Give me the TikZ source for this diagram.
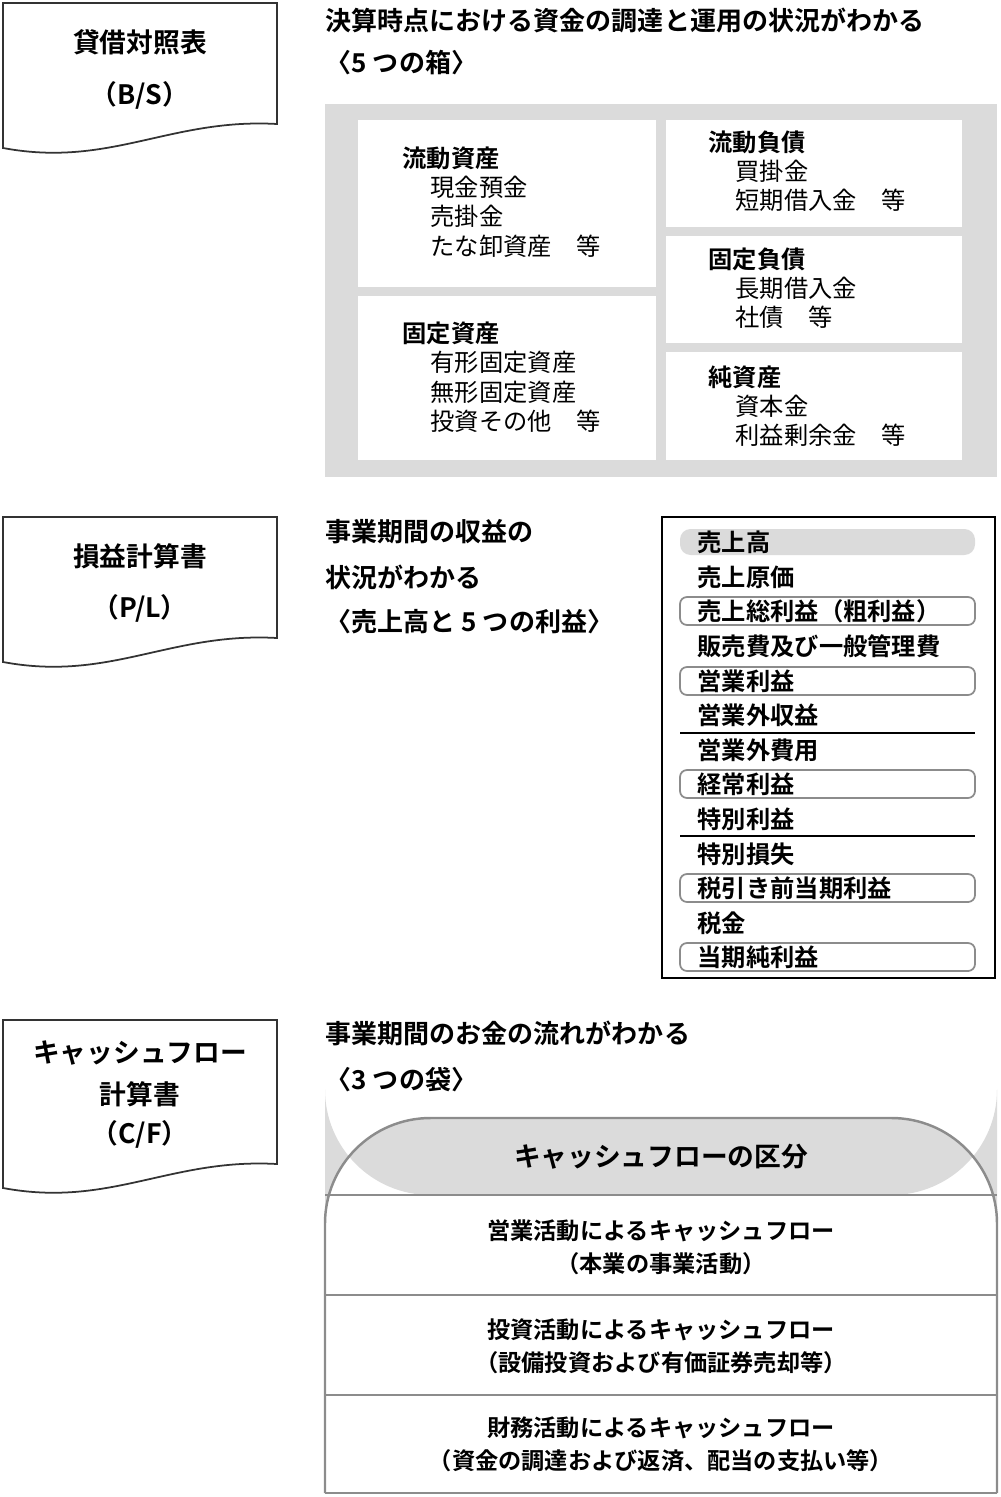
\documentclass[tikz,border=0pt]{standalone}
\usepackage{fontspec}
\setmainfont{Noto Sans CJK JP}[BoldFont={* Bold}]
\usetikzlibrary{positioning}
\definecolor{boxgray}{gray}{0.86}
\definecolor{linegray}{gray}{0.55}
\tikzset{
  doc/.style={draw=black!80, line width=0.5pt},
  head/.style={anchor=west, inner sep=0pt, font=\fontsize{7.4}{9}\selectfont\bfseries},
  item/.style={anchor=west, inner sep=0pt, font=\fontsize{6.9}{8}\selectfont},
  itemb/.style={item, font=\fontsize{6.9}{8}\selectfont\bfseries},
  tag/.style={inner sep=0pt, font=\fontsize{7.6}{9}\selectfont\bfseries},
  pbox/.style={draw=linegray, rounded corners=2pt, line width=0.5pt},
  cfrow/.style={align=center, inner sep=0pt, font=\fontsize{6.6}{9.5}\selectfont\bfseries}
}
\newcommand{\docshape}[2]{%
  \draw[doc] (3,#1) -- (3,#2) .. controls (110,#2+20) and (170,#2-30) .. (277,#2-24) -- (277,#1) -- cycle;}
\begin{document}
\begin{tikzpicture}[x=0.01cm,y=-0.01cm]
\useasboundingbox (0,0) rectangle (1000,1497);
% balance sheet
\docshape{3}{148}
\node[tag] (bs1) at (140,42) {貸借対照表};
\node[tag] (bs2) at (140,95) {（B/S）};
\node[head] (bsh1) at (325,20) {決算時点における資金の調達と運用の状況がわかる};
\node[head] (bsh2) at (325,63) {〈5 つの箱〉};
\fill[boxgray] (325,104) rectangle (997,477);
\fill[white] (358,120) rectangle (656,287);
\fill[white] (358,296) rectangle (656,460);
\fill[white] (666,120) rectangle (962,227);
\fill[white] (666,236) rectangle (962,343);
\fill[white] (666,352) rectangle (962,460);
\node[itemb] (ca) at (402,158) {流動資産};
\node[item] at (430,187) {現金預金};
\node[item] at (430,216) {売掛金};
\node[item] at (430,246) {たな卸資産\quad 等};
\node[itemb] (fa) at (402,333) {固定資産};
\node[item] at (430,362) {有形固定資産};
\node[item] at (430,392) {無形固定資産};
\node[item] at (430,421) {投資その他\quad 等};
\node[itemb] (cl) at (708,142) {流動負債};
\node[item] at (735,171) {買掛金};
\node[item] at (735,200) {短期借入金\quad 等};
\node[itemb] (fl) at (708,259) {固定負債};
\node[item] at (735,288) {長期借入金};
\node[item] at (735,317) {社債\quad 等};
\node[itemb] (na) at (708,377) {純資産};
\node[item] at (735,406) {資本金};
\node[item] at (735,435) {利益剰余金\quad 等};
% income statement
\docshape{517}{662}
\node[tag] (pl1) at (140,556) {損益計算書};
\node[tag] (pl2) at (140,608) {（P/L）};
\node[head] (plh1) at (325,532) {事業期間の収益の};
\node[head] (plh2) at (325,577) {状況がわかる};
\node[head] (plh3) at (325,622) {〈売上高と 5 つの利益〉};
\draw[line width=0.8pt] (662,517) rectangle (995,978);
\fill[boxgray, rounded corners=3pt] (680,529) rectangle (975,555);
\foreach \y in {611,681,784,888,957}
  \draw[pbox] (680,\y-14) rectangle (975,\y+14);
\draw[line width=0.8pt] (680,733) -- (975,733);
\draw[line width=0.8pt] (680,836) -- (975,836);
\foreach \y/\t in {542/売上高, 577/売上原価, 611/売上総利益（粗利益）, 646/販売費及び一般管理費,
  681/営業利益, 715/営業外収益, 750/営業外費用, 784/経常利益, 819/特別利益,
  854/特別損失, 888/税引き前当期利益, 923/税金, 957/当期純利益}
  \node[itemb] at (697,\y) {\t};
% cash flow statement
\docshape{1020}{1188}
\node[tag] (cf1) at (140,1053) {キャッシュフロー};
\node[tag] (cf2) at (140,1094) {計算書};
\node[tag] (cf3) at (140,1134) {（C/F）};
\node[head] (cfh1) at (325,1033) {事業期間のお金の流れがわかる};
\node[head] (cfh2) at (325,1080) {〈3 つの袋〉};
\fill[boxgray, rounded corners=30pt] (325,1195) -- (325,1118) -- (997,1118) -- (997,1195) -- cycle;
\draw[linegray, line width=0.7pt, rounded corners=30pt] (325,1493) -- (325,1118) -- (997,1118) -- (997,1493);
\draw[linegray, line width=0.7pt] (325,1493) -- (997,1493);
\foreach \y in {1195,1295,1395}
  \draw[linegray, line width=0.7pt] (325,\y) -- (997,\y);
\node[tag] (cft) at (661,1157) {キャッシュフローの区分};
\node[cfrow] (op) at (661,1247) {営業活動によるキャッシュフロー\\（本業の事業活動）};
\node[cfrow] (inv) at (661,1346) {投資活動によるキャッシュフロー\\（設備投資および有価証券売却等）};
\node[cfrow] (fin) at (661,1444) {財務活動によるキャッシュフロー\\（資金の調達および返済、配当の支払い等）};
\end{tikzpicture}
\end{document}
